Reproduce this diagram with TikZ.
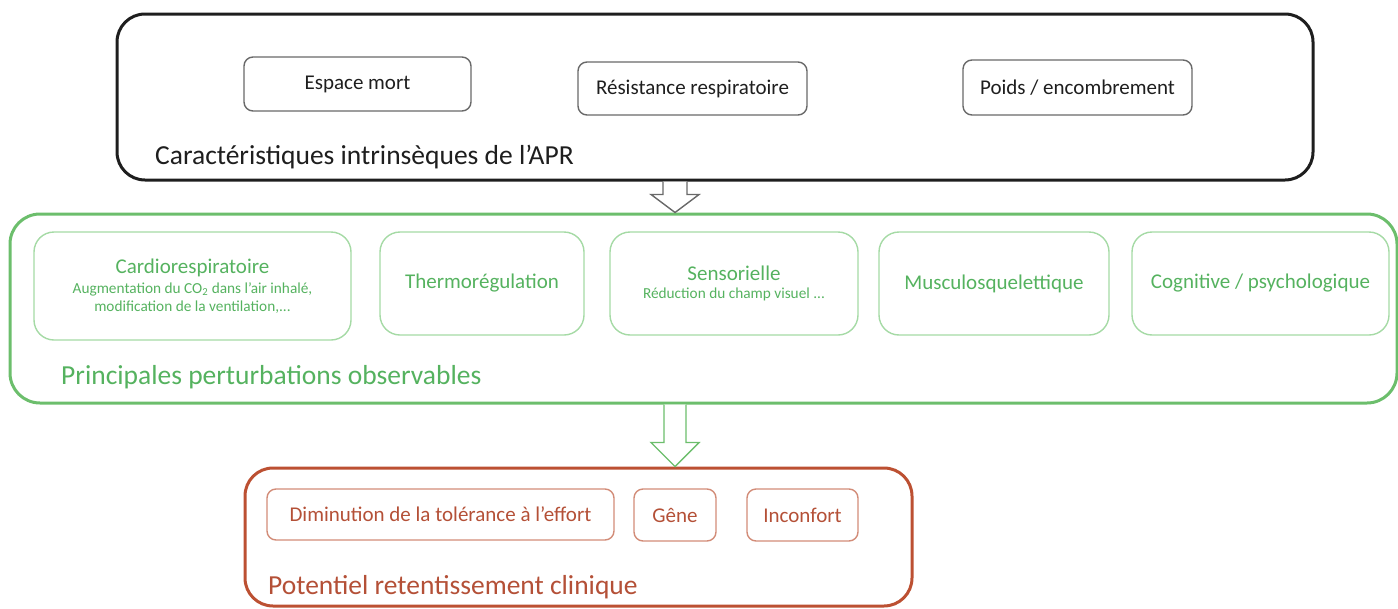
\documentclass[tikz,border=0pt]{standalone}
\usepackage{fontspec}
\setmainfont{Carlito}
\usetikzlibrary{calc}

\definecolor{aprline}{RGB}{30,30,30}
\definecolor{aprbox}{RGB}{105,105,105}
\definecolor{aprtext}{RGB}{30,30,30}
\definecolor{pertline}{RGB}{108,190,108}
\definecolor{pertbox}{RGB}{165,218,165}
\definecolor{perttext}{RGB}{85,178,95}
\definecolor{clinline}{RGB}{188,80,50}
\definecolor{clinbox}{RGB}{210,140,120}
\definecolor{clintext}{RGB}{180,80,55}

\begin{document}
\begin{tikzpicture}[x=1pt,y=-1pt,
  big/.style={draw,rounded corners=28pt,line width=3pt,inner sep=0pt},
  small/.style={draw,rounded corners=9pt,line width=1.4pt,inner sep=0pt,align=center,font=\fontsize{21}{25}\selectfont},
  title/.style={anchor=west,inner sep=0pt,font=\fontsize{27.5}{32}\selectfont},
  hollow/.style={line width=1.4pt,fill=white,line join=miter}]
\def\sw{12pt}
\def\hw{24pt}
\def\sub{\fontsize{15.3}{18}\selectfont}
\useasboundingbox (0,0) rectangle (1398,608);

% caracteristiques de l'APR
\node [big, draw=aprline, minimum width=1196pt, minimum height=166pt, name=a0] at (715,97) {};
\node [small, draw=aprbox, text=aprtext, minimum width=227pt, minimum height=54pt, name=a1] at (357.5,84) {Espace mort};
\node [small, draw=aprbox, text=aprtext, minimum width=229pt, minimum height=53pt, name=a2] at (692.5,88.5) {Résistance respiratoire};
\node [small, draw=aprbox, text=aprtext, minimum width=229pt, minimum height=55pt, name=a3] at (1077.5,87.5) {Poids / encombrement};
\node [title, text=aprtext, name=at] at (155,157) {Caractéristiques intrinsèques de l’APR};

% perturbations
\node [big, draw=pertline, rounded corners=30pt, minimum width=1387pt, minimum height=189pt, name=b0] at (703.5,308.5) {};
\node [small, draw=pertbox, text=perttext, rounded corners=20pt, minimum width=317pt, minimum height=108pt, name=b1] at (192.5,286)
  {Cardiorespiratoire\\[-5pt]{\sub Augmentation du CO\textsubscript{2} dans l’air inhalé,}\\[-7pt]{\sub modification de la ventilation,...}};
\node [small, draw=pertbox, text=perttext, rounded corners=20pt, minimum width=204pt, minimum height=103pt, name=b2] at (482,283.5) {Thermorégulation};
\node [small, draw=pertbox, text=perttext, rounded corners=20pt, minimum width=248pt, minimum height=103pt, name=b3] at (734,283.5)
  {Sensorielle\\[-7pt]{\sub Réduction du champ visuel ...}};
\node [small, draw=pertbox, text=perttext, rounded corners=20pt, minimum width=230pt, minimum height=103pt, name=b4] at (994,283.5) {Musculosquelettique};
\node [small, draw=pertbox, text=perttext, rounded corners=20pt, minimum width=257pt, minimum height=103pt, name=b5] at (1260.5,283.5) {Cognitive / psychologique};
\node [title, text=perttext, name=bt] at (61,377) {Principales perturbations observables};

% retentissement clinique
\node [big, draw=clinline, minimum width=667pt, minimum height=138pt, name=c0] at (578.5,537) {};
\node [small, draw=clinbox, text=clintext, minimum width=347pt, minimum height=51pt, name=c1] at (440.5,514.5) {Diminution de la tolérance à l’effort};
\node [small, draw=clinbox, text=clintext, minimum width=82pt, minimum height=52pt, name=c2] at (675,515) {Gêne};
\node [small, draw=clinbox, text=clintext, minimum width=111pt, minimum height=52pt, name=c3] at (802.5,515) {Inconfort};
\node [title, text=clintext, name=ct] at (268,587) {Potentiel retentissement clinique};

% fleches creuses
\coordinate (ax) at (675,0);
\draw [hollow, draw=aprbox] let \p1=(a0.south -| ax), \p2=(b0.north -| ax) in
  (\x1-\sw,\y1) -- (\x1-\sw,\y2+18pt) -- (\x1-\hw,\y2+18pt) -- (\x2,\y2) -- (\x1+\hw,\y2+18pt) -- (\x1+\sw,\y2+18pt) -- (\x1+\sw,\y1);
\draw [hollow, draw=pertline] let \p1=(b0.south -| ax), \p2=(c0.north -| ax) in
  (\x1-11pt,\y1) -- (\x1-11pt,\y2+24pt) -- (\x1-\hw,\y2+24pt) -- (\x2,\y2) -- (\x1+\hw,\y2+24pt) -- (\x1+11pt,\y2+24pt) -- (\x1+11pt,\y1);
\end{tikzpicture}
\end{document}
